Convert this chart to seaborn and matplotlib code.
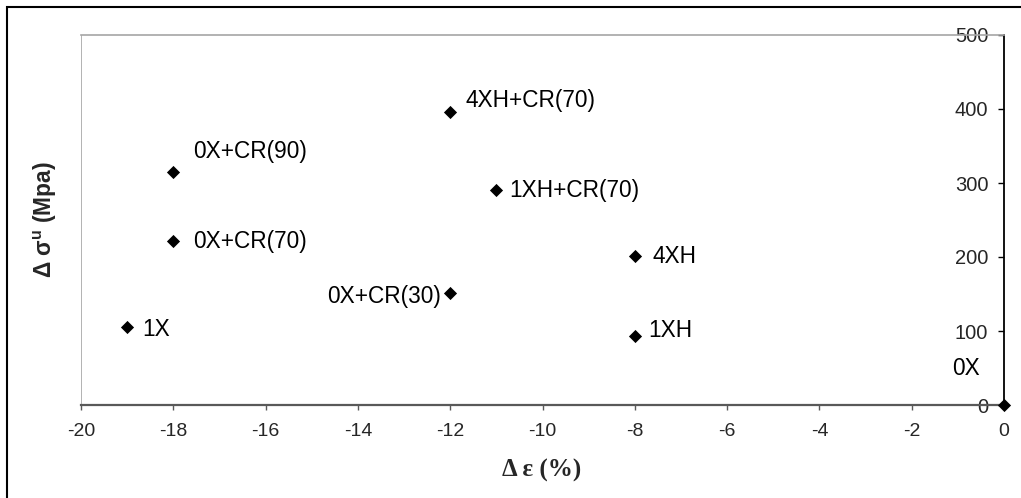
import numpy as np
import pandas as pd
import seaborn as sns
import matplotlib.pyplot as plt
from matplotlib.patches import Rectangle

sns.set_style("white")
plt.rcParams['font.family'] = ['Liberation Sans', 'DejaVu Sans']
plt.rcParams['axes.unicode_minus'] = False
plt.rcParams['mathtext.fontset'] = 'custom'
plt.rcParams['mathtext.rm'] = 'Liberation Sans'
plt.rcParams['mathtext.bf'] = 'Liberation Sans:bold'

# data
labels = ['1X', '0X+CR(90)', '0X+CR(70)', '4XH+CR(70)', '1XH+CR(70)',
          '0X+CR(30)', '4XH', '1XH', '0X']
d_eps = [-19, -18, -18, -12, -11, -12, -8, -8, 0]
d_sigma = [106, 315, 221, 396, 290, 152, 201, 93, 0]

# label offsets (points) and alignment
offsets = [(11, -2), (14, 15), (14, 0), (11, 8), (9, 0),
           (-6.5, -3), (13, 0), (10, 4), (-37.5, 26)]
aligns = ['left', 'left', 'left', 'left', 'left', 'right', 'left', 'left', 'left']

df = pd.DataFrame({'eps': d_eps, 'sigma': d_sigma, 'label': labels})

fig = plt.figure(figsize=(10.21, 4.98), dpi=100)
ax = fig.add_axes([81/1021, 93/498, (1004-81)/1021, (405-35)/498])

sns.scatterplot(data=df, x='eps', y='sigma', marker='D', color='black',
                s=45, edgecolor='black', linewidth=0, ax=ax, clip_on=False, zorder=5)

for lab, x, y, off, ha in zip(labels, d_eps, d_sigma, offsets, aligns):
    ax.annotate(lab, (x, y), xytext=off, textcoords='offset points',
                ha=ha, va='center', fontsize=16.3, color='black')

ax.set_xlim(-20, 0)
ax.set_ylim(0, 500)
ax.set_xticks(range(-20, 1, 2))
ax.set_yticks(range(0, 501, 100))

# y axis sits at x = 0
ax.spines['left'].set_position(('data', 0))
ax.spines['left'].set_color('black')
ax.spines['left'].set_linewidth(1.3)
ax.spines['right'].set_visible(False)
ax.spines['top'].set_color('#a6a6a6')
ax.spines['top'].set_linewidth(1.2)
ax.spines['bottom'].set_color('#595959')
ax.spines['bottom'].set_linewidth(1.6)
ax.axvline(-20, color='#a6a6a6', lw=1.2, zorder=0)

ax.tick_params(axis='x', direction='out', length=3.6, width=1, color='#595959',
               labelsize=14, pad=9, bottom=True)
ax.tick_params(axis='y', direction='out', length=4.3, width=1, color='black',
               labelsize=14.5, pad=7, left=True)
ax.set_xlabel('')
ax.set_ylabel('')

fig.text(542/1021, 1 - 470/498, 'Δ ε (%)', family='Liberation Serif',
         weight='bold', fontsize=18, ha='center', va='center')
fig.text(45/1021, 1 - 220/498, r'Δ σ$^{\mathbf{u}}$ (Mpa)', weight='bold',
         fontsize=16.4, rotation=90, ha='center', va='center')

# outer chart frame
fig.patches.append(Rectangle((7/1021, -0.02), 1.02, 1 - 7/498 + 0.02,
                             transform=fig.transFigure, fill=False,
                             edgecolor='black', lw=1.5))

fig.savefig('out.png', dpi=100)
